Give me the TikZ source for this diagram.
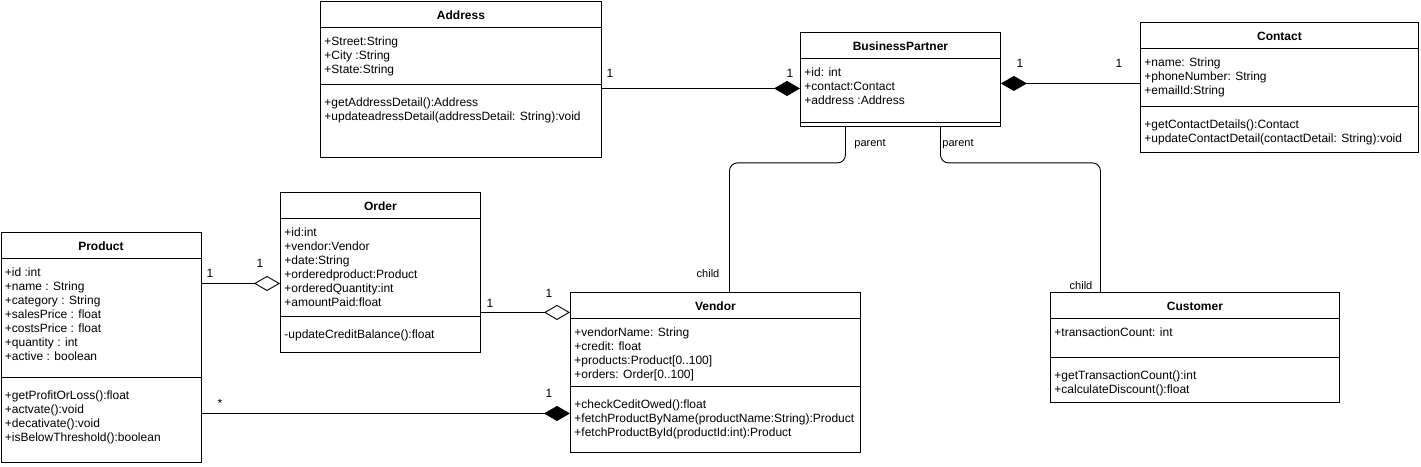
\documentclass[tikz,border=0pt]{standalone}
\usepackage{fontspec}
\setmainfont{Liberation Sans}
\usetikzlibrary{arrows.meta}
\newcommand{\umlrows}[1]{\begin{tabular}[t]{@{}l@{}}#1\end{tabular}}
\tikzset{
  umlbox/.style={draw, rectangle, anchor=north west, inner sep=0pt},
  umltitle/.style={anchor=base, inner sep=0pt, font=\fontsize{12}{14}\selectfont\bfseries},
  umltext/.style={anchor=base west, inner sep=0pt, font=\fontsize{12}{14}\selectfont},
  mult/.style={inner sep=0pt, font=\fontsize{12}{14}\selectfont},
  role/.style={inner sep=0pt, font=\fontsize{11}{13}\selectfont},
  comp/.style={{Diamond[length=26pt,width=15pt]}-},
  agg/.style={{Diamond[open,length=26pt,width=15pt]}-},
}
\begin{document}
\begin{tikzpicture}[x=1pt, y=-1pt, line width=0.9pt]
	\useasboundingbox (0,0) rectangle (1421,466);
	% Classes
	\node[umlbox, minimum width=281pt, minimum height=156pt] (address) at (320,1) {};
	\draw ([yshift=-26pt]address.north west) -- ([yshift=-26pt]address.north east);
	\draw ([yshift=-83pt]address.north west) -- ([yshift=-83pt]address.north east);
	\node[umltitle] (addresstitle) at ([yshift=-18pt]address.north) {Address};
	\node[umltext] (addressattr) at ([xshift=4pt,yshift=-44pt]address.north west) {\umlrows{+Street:String\\+City :String\\+State:String}};
	\node[umltext] (addressop) at ([xshift=4pt,yshift=-105pt]address.north west) {\umlrows{+getAddressDetail():Address\\+updateadressDetail(addressDetail: String):void}};
	
	\node[umlbox, minimum width=200pt, minimum height=94pt] (partner) at (800,32) {};
	\draw ([yshift=-26pt]partner.north west) -- ([yshift=-26pt]partner.north east);
	\draw ([yshift=-90pt]partner.north west) -- ([yshift=-90pt]partner.north east);
	\node[umltitle] (partnertitle) at ([yshift=-18pt]partner.north) {BusinessPartner};
	\node[umltext] (partnerattr) at ([xshift=4pt,yshift=-44pt]partner.north west) {\umlrows{+id: int\\+contact:Contact\\+address :Address}};
	
	\node[umlbox, minimum width=278pt, minimum height=130pt] (contact) at (1140,22) {};
	\draw ([yshift=-26pt]contact.north west) -- ([yshift=-26pt]contact.north east);
	\draw ([yshift=-84pt]contact.north west) -- ([yshift=-84pt]contact.north east);
	\node[umltitle] (contacttitle) at ([yshift=-18pt]contact.north) {Contact};
	\node[umltext] (contactattr) at ([xshift=4pt,yshift=-44pt]contact.north west) {\umlrows{+name: String\\+phoneNumber: String\\+emailId:String}};
	\node[umltext] (contactop) at ([xshift=4pt,yshift=-106pt]contact.north west) {\umlrows{+getContactDetails():Contact\\+updateContactDetail(contactDetail: String):void}};
	
	\node[umlbox, minimum width=200pt, minimum height=230pt] (product) at (0.5,232) {};
	\draw ([yshift=-26pt]product.north west) -- ([yshift=-26pt]product.north east);
	\draw ([yshift=-145pt]product.north west) -- ([yshift=-145pt]product.north east);
	\node[umltitle] (producttitle) at ([yshift=-18pt]product.north) {Product};
	\node[umltext] (productattr) at ([xshift=4pt,yshift=-44pt]product.north west) {\umlrows{+id :int\\+name : String\\+category : String\\+salesPrice : float\\+costsPrice : float\\+quantity : int\\+active : boolean}};
	\node[umltext] (productop) at ([xshift=4pt,yshift=-167pt]product.north west) {\umlrows{+getProfitOrLoss():float\\+actvate():void\\+decativate():void\\+isBelowThreshold():boolean}};
	
	\node[umlbox, minimum width=200pt, minimum height=160pt] (order) at (280,192) {};
	\draw ([yshift=-26pt]order.north west) -- ([yshift=-26pt]order.north east);
	\draw ([yshift=-124pt]order.north west) -- ([yshift=-124pt]order.north east);
	\node[umltitle] (ordertitle) at ([yshift=-18pt]order.north) {Order};
	\node[umltext] (orderattr) at ([xshift=4pt,yshift=-44pt]order.north west) {\umlrows{+id:int\\+vendor:Vendor\\+date:String\\+orderedproduct:Product\\+orderedQuantity:int\\+amountPaid:float}};
	\node[umltext] (orderop) at ([xshift=4pt,yshift=-146pt]order.north west) {\umlrows{-updateCreditBalance():float}};
	
	\node[umlbox, minimum width=290pt, minimum height=160pt] (vendor) at (570,292) {};
	\draw ([yshift=-26pt]vendor.north west) -- ([yshift=-26pt]vendor.north east);
	\draw ([yshift=-94pt]vendor.north west) -- ([yshift=-94pt]vendor.north east);
	\node[umltitle] (vendortitle) at ([yshift=-18pt]vendor.north) {Vendor};
	\node[umltext] (vendorattr) at ([xshift=4pt,yshift=-44pt]vendor.north west) {\umlrows{+vendorName: String\\+credit: float\\+products:Product[0..100]\\+orders: Order[0..100]}};
	\node[umltext] (vendorop) at ([xshift=4pt,yshift=-116pt]vendor.north west) {\umlrows{+checkCeditOwed():float\\+fetchProductByName(productName:String):Product\\+fetchProductById(productId:int):Product}};
	
	\node[umlbox, minimum width=289pt, minimum height=110pt] (customer) at (1050,292) {};
	\draw ([yshift=-26pt]customer.north west) -- ([yshift=-26pt]customer.north east);
	\draw ([yshift=-65pt]customer.north west) -- ([yshift=-65pt]customer.north east);
	\node[umltitle] (customertitle) at ([yshift=-18pt]customer.north) {Customer};
	\node[umltext] (customerattr) at ([xshift=4pt,yshift=-44pt]customer.north west) {\umlrows{+transactionCount: int}};
	\node[umltext] (customerop) at ([xshift=4pt,yshift=-87pt]customer.north west) {\umlrows{+getTransactionCount():int\\+calculateDiscount():float}};
	
	% Associations
	\draw[comp] ([yshift=-9pt]partner.west) coordinate (pa) -- (pa -| address.east);
	\draw[comp] ([yshift=-4pt]partner.east) coordinate (pc) -- (pc -| contact.west);
	\draw[agg] ([yshift=-11pt]order.west) coordinate (op) -- (op -| product.east);
	\draw[agg] ([yshift=60pt]vendor.west) coordinate (vo) -- (vo -| order.east);
	\draw[comp] ([yshift=-41pt]vendor.west) coordinate (vp) -- (vp -| product.east);
	
	% Inheritance
	\draw[rounded corners=8pt] ([xshift=-55pt]partner.south) -- ++(0,36) -| ([xshift=14pt]vendor.north);
	\draw[rounded corners=8pt] ([xshift=40pt]partner.south) -- ++(0,36) -| ([xshift=-94.5pt]customer.north);
	
	% Multiplicities
	\node[mult] (m1) at (610,73) {1};
	\node[mult] (m2) at (790,73) {1};
	\node[mult] (m3) at (1020,63) {1};
	\node[mult] (m4) at (1119,63) {1};
	\node[mult] (m5) at (210,273) {1};
	\node[mult] (m6) at (260,263) {1};
	\node[mult] (m7) at (490,303) {1};
	\node[mult] (m8) at (549,293) {1};
	\node[mult] (m9) at (220,403) {*};
	\node[mult] (m10) at (549,393) {1};
	
	% Roles
	\node[role] (r1) at (870,144) {parent};
	\node[role] (r2) at (958,144) {parent};
	\node[role] (r3) at (708,274) {child};
	\node[role] (r4) at (1081,286) {child};
	
\end{tikzpicture}
\end{document}
